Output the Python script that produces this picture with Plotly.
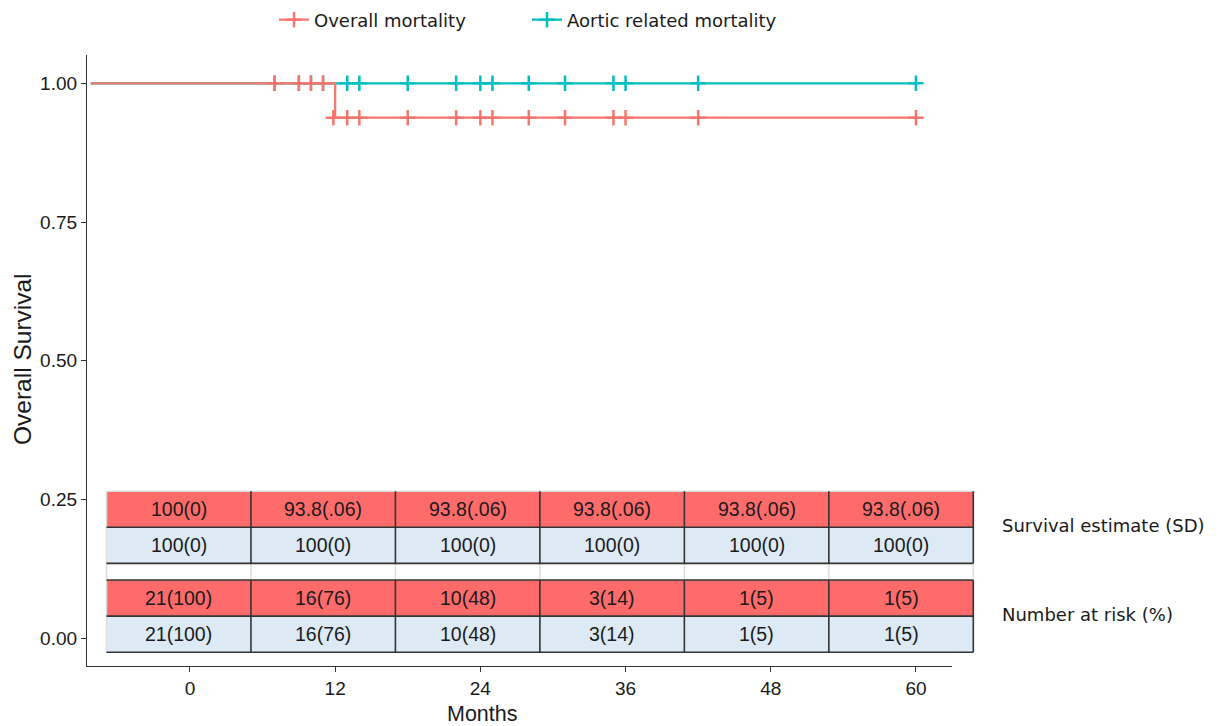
import plotly.graph_objects as go

# ---------------- data ----------------
tick_months = [0, 12, 24, 36, 48, 60]
y_ticks = [0.0, 0.25, 0.5, 0.75, 1.0]
y_tick_labels = ["0.00", "0.25", "0.50", "0.75", "1.00"]

overall_times = [-8.2, 12, 60]
overall_surv = [1.0, 0.938, 0.938]
overall_cens_times = [7, 9, 10, 11, 11.85, 13, 14, 18, 22, 24, 25, 28, 31, 35, 36, 42, 60]
overall_cens_surv = [1.0, 1.0, 1.0, 1.0, 0.938, 0.938, 0.938, 0.938, 0.938, 0.938,
                     0.938, 0.938, 0.938, 0.938, 0.938, 0.938, 0.938]

aortic_times = [-8.2, 60]
aortic_surv = [1.0, 1.0]
aortic_cens_times = [7, 9, 10, 11, 13, 14, 18, 22, 24, 25, 28, 31, 35, 36, 42, 60]
aortic_cens_surv = [1.0, 1.0, 1.0, 1.0, 1.0, 1.0, 1.0, 1.0, 1.0, 1.0, 1.0, 1.0, 1.0, 1.0, 1.0, 1.0]

surv_overall_txt = ["100(0)", "93.8(.06)", "93.8(.06)", "93.8(.06)", "93.8(.06)", "93.8(.06)"]
surv_aortic_txt = ["100(0)", "100(0)", "100(0)", "100(0)", "100(0)", "100(0)"]
risk_overall_txt = ["21(100)", "16(76)", "10(48)", "3(14)", "1(5)", "1(5)"]
risk_aortic_txt = ["21(100)", "16(76)", "10(48)", "3(14)", "1(5)", "1(5)"]

series_names = ["Overall mortality", "Aortic related mortality"]
row_labels = ["Survival estimate (SD)", "Number at risk (%)"]

# ---------------- style ----------------
RED = "#F8766D"
BLUE = "#00BFC4"
CELL_RED = "#FF6B6B"
CELL_BLUE = "#DDEAF6"
DARK = "#333333"
FAINT = "#DDDDDD"
TXT = "#1a1a1a"

X_RANGE = [-8.51, 62.98]
Y_RANGE = [-0.0499, 1.051]

W, H = 1222, 726
M = dict(l=87, r=270, t=55, b=60)


def xp(m):
    return (m - X_RANGE[0]) / (X_RANGE[1] - X_RANGE[0])


def yp(v):
    return (v - Y_RANGE[0]) / (Y_RANGE[1] - Y_RANGE[0])


fig = go.Figure()

marker_kw = lambda c: dict(symbol="cross-thin", size=11, line=dict(width=2.5, color=c), color=c)

# legend entries (first so they appear first)
fig.add_trace(go.Scatter(x=[None], y=[None], mode="lines+markers", name=series_names[0],
                         line=dict(color=RED, width=2.2), marker=marker_kw(RED)))
fig.add_trace(go.Scatter(x=[None], y=[None], mode="lines+markers", name=series_names[1],
                         line=dict(color=BLUE, width=2.2), marker=marker_kw(BLUE)))

# aortic curve (drawn below)
fig.add_trace(go.Scatter(x=aortic_times, y=aortic_surv, mode="lines", line_shape="hv",
                         line=dict(color=BLUE, width=2.2), showlegend=False, hoverinfo="skip"))
fig.add_trace(go.Scatter(x=aortic_cens_times, y=aortic_cens_surv, mode="markers",
                         marker=marker_kw(BLUE), showlegend=False))
# overall curve
fig.add_trace(go.Scatter(x=overall_times, y=overall_surv, mode="lines", line_shape="hv",
                         line=dict(color=RED, width=2.2), showlegend=False, hoverinfo="skip"))
fig.add_trace(go.Scatter(x=overall_cens_times, y=overall_cens_surv, mode="markers",
                         marker=marker_kw(RED), showlegend=False))

# ---------------- risk / survival table ----------------
table_left = -6.9
col_w = 11.94
ncol = len(tick_months)
row_h = 0.065
rows = [
    (0.265, CELL_RED, surv_overall_txt),
    (0.200, CELL_BLUE, surv_aortic_txt),
    (0.105, CELL_RED, risk_overall_txt),
    (0.040, CELL_BLUE, risk_aortic_txt),
]
shapes = []
annotations = []
x0 = xp(table_left)
x1 = xp(table_left + col_w * ncol)
for top, fill, texts in rows:
    shapes.append(dict(type="rect", xref="paper", yref="paper", x0=x0, x1=x1,
                       y0=yp(top - row_h), y1=yp(top), fillcolor=fill, line=dict(width=0),
                       layer="above"))
    for i, t in enumerate(texts):
        cx = table_left + col_w * (i + 0.5)
        annotations.append(dict(xref="paper", yref="paper", x=xp(cx), y=yp(top - row_h / 2),
                                text=t, showarrow=False, xanchor="center", yanchor="middle",
                                font=dict(family="Liberation Sans, Arial", size=19.5, color=TXT)))

# faint outer edges (top, left) and gap column lines
top_all = rows[0][0]
bot_all = rows[-1][0] - row_h
shapes.append(dict(type="line", xref="paper", yref="paper", x0=x0, x1=x1, y0=yp(top_all),
                   y1=yp(top_all), line=dict(color=FAINT, width=1.5), layer="above"))
shapes.append(dict(type="line", xref="paper", yref="paper", x0=x0, x1=x0, y0=yp(bot_all),
                   y1=yp(top_all), line=dict(color=FAINT, width=1.5), layer="above"))
gap_top = rows[1][0] - row_h
gap_bot = rows[2][0]
for i in range(1, ncol + 1):
    xx = xp(table_left + col_w * i)
    shapes.append(dict(type="line", xref="paper", yref="paper", x0=xx, x1=xx, y0=yp(gap_bot),
                       y1=yp(gap_top), line=dict(color=FAINT, width=1.5), layer="above"))

# dark horizontal lines
for yy in [rows[0][0] - row_h, rows[1][0] - row_h, rows[2][0], rows[2][0] - row_h, rows[3][0] - row_h]:
    shapes.append(dict(type="line", xref="paper", yref="paper", x0=x0, x1=x1, y0=yp(yy), y1=yp(yy),
                       line=dict(color=DARK, width=1.6), layer="above"))
# dark vertical lines within blocks
for btop, bbot in [(rows[0][0], rows[1][0] - row_h), (rows[2][0], rows[3][0] - row_h)]:
    for i in range(1, ncol + 1):
        xx = xp(table_left + col_w * i)
        shapes.append(dict(type="line", xref="paper", yref="paper", x0=xx, x1=xx, y0=yp(bbot),
                           y1=yp(btop), line=dict(color=DARK, width=1.6), layer="above"))

# row-group labels on the right
label_x = (1000 - M["l"]) / (W - M["l"] - M["r"])
for lbl, (btop, bbot) in zip(row_labels, [(rows[0][0], rows[1][0] - row_h),
                                          (rows[2][0], rows[3][0] - row_h)]):
    annotations.append(dict(xref="paper", yref="paper", x=label_x, y=yp((btop + bbot) / 2 + 0.003),
                            text=lbl, showarrow=False, xanchor="left", yanchor="middle",
                            font=dict(family="DejaVu Sans", size=18, color=TXT)))

# axis titles
annotations.append(dict(xref="paper", yref="paper", x=xp(24.2), y=0, yshift=-48,
                        text="Months", showarrow=False, xanchor="center", yanchor="middle",
                        font=dict(family="Liberation Sans, Arial", size=21.5, color=TXT)))
annotations.append(dict(xref="paper", yref="paper", x=0, xshift=-65, y=0.5, yshift=1.5,
                        text="Overall Survival", showarrow=False, textangle=-90,
                        xanchor="center", yanchor="middle",
                        font=dict(family="Liberation Sans, Arial", size=24.5, color=TXT)))

fig.update_layout(
    width=W, height=H, margin=M, autosize=False,
    paper_bgcolor="white", plot_bgcolor="white",
    shapes=shapes, annotations=annotations,
    showlegend=True,
    legend=dict(orientation="h", xref="container", yref="container", x=274 / W, xanchor="left",
                y=1 - 20 / H, yanchor="middle", entrywidth=208, entrywidthmode="pixels",
                font=dict(family="DejaVu Sans", size=18, color=TXT), itemwidth=30,
                bgcolor="rgba(0,0,0,0)"),
    xaxis=dict(range=X_RANGE, tickvals=tick_months, ticktext=[str(t) for t in tick_months],
               showgrid=False, zeroline=False, showline=True, linecolor=DARK, linewidth=1.2,
               ticks="outside", ticklen=5, tickcolor=DARK, tickwidth=1.2,
               tickfont=dict(family="Liberation Sans, Arial", size=19, color=TXT)),
    yaxis=dict(range=Y_RANGE, tickvals=y_ticks, ticktext=y_tick_labels,
               showgrid=False, zeroline=False, showline=True, linecolor=DARK, linewidth=1.2,
               ticks="outside", ticklen=5, tickcolor=DARK, tickwidth=1.2,
               tickfont=dict(family="Liberation Sans, Arial", size=19, color=TXT)),
)

fig.write_html("out.html", config={"displayModeBar": False},
               post_script="document.body.style.margin='0px';document.body.style.overflow='hidden';")
